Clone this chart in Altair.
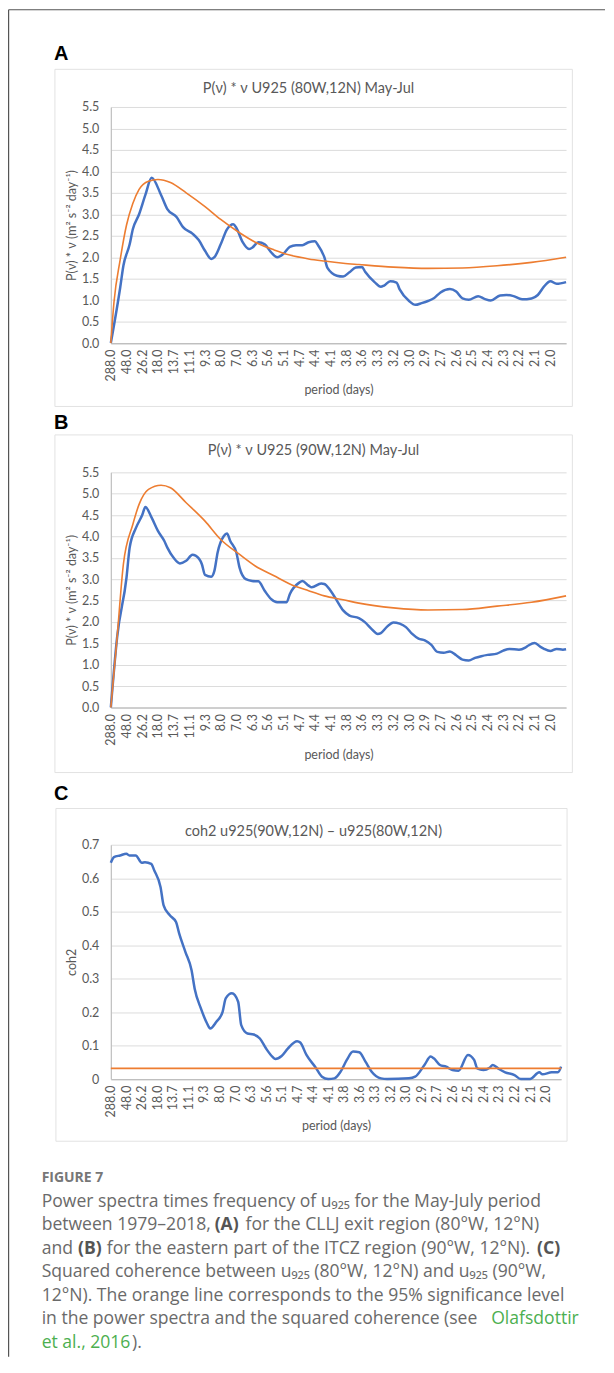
import altair as alt
import pandas as pd

FONT = "Lato"
GRAY = "#595959"
BLUE = "#4472C4"
ORANGE = "#ED7D31"

# x positions are frequency indices (0..145); tick labels are the periods (days)
period_labels = ["288.0", "48.0", "26.2", "18.0", "13.7", "11.1", "9.3", "8.0", "7.0", "6.3",
                 "5.6", "5.1", "4.7", "4.4", "4.1", "3.8", "3.6", "3.3", "3.2", "3.0",
                 "2.9", "2.7", "2.6", "2.5", "2.4", "2.3", "2.2", "2.1", "2.0"]

# Panel A : P(v)*v U925 (80W,12N)
a_blue_i = [0, 3, 4, 6, 7, 9, 11, 13, 16, 18, 21, 23, 26, 28, 30, 32, 33, 35, 37, 39, 40, 42, 44, 45,
            47, 49, 51, 53, 55, 57, 59, 61, 63, 65, 66, 68, 69, 72, 74, 76, 78, 80, 81, 84, 86, 87,
            89, 91, 92, 95, 97, 99, 101, 103, 105, 108, 110, 112, 114, 117, 119, 121, 124, 126, 128,
            131, 134, 136, 138, 140, 142, 145]
a_blue_v = [0.0, 1.3, 1.8, 2.3, 2.65, 3.0, 3.45, 3.85, 3.45, 3.12, 2.93, 2.7, 2.55, 2.4, 2.15, 1.96, 2.0,
            2.3, 2.65, 2.77, 2.68, 2.35, 2.19, 2.22, 2.35, 2.3, 2.12, 2.0, 2.08, 2.24, 2.28, 2.28, 2.35,
            2.37, 2.28, 2.0, 1.75, 1.57, 1.55, 1.65, 1.76, 1.77, 1.66, 1.42, 1.31, 1.34, 1.44, 1.41, 1.25,
            0.98, 0.89, 0.93, 0.98, 1.05, 1.18, 1.26, 1.2, 1.04, 1.01, 1.09, 1.03, 0.99, 1.11, 1.12, 1.1,
            1.02, 1.04, 1.12, 1.32, 1.44, 1.38, 1.42]
a_orange_i = [0, 1, 3, 5, 7, 9, 12, 15, 19, 24, 30, 35, 41, 46, 52, 57, 63, 68, 74, 79, 90, 101, 112,
              123, 134, 145]
a_orange_v = [0.0, 0.95, 1.95, 2.75, 3.25, 3.58, 3.77, 3.81, 3.74, 3.5, 3.18, 2.88, 2.57, 2.35, 2.17,
              2.05, 1.96, 1.91, 1.86, 1.83, 1.77, 1.74, 1.75, 1.8, 1.88, 2.0]

# Panel B : P(v)*v U925 (90W,12N)
b_blue_i = [0, 2, 5, 6, 8, 10, 11, 13, 15, 17, 18, 20, 22, 24, 26, 27, 29, 30, 32, 33, 34, 36, 37, 38,
            40, 41, 43, 45, 47, 49, 51, 53, 56, 57, 60, 61, 63, 64, 67, 68, 70, 72, 74, 76, 79, 81, 83,
            85, 86, 88, 90, 92, 94, 96, 98, 100, 102, 104, 106, 108, 110, 112, 114, 116, 118, 120, 123,
            125, 127, 130, 132, 133, 135, 137, 138, 140, 142, 144, 145]
b_blue_v = [0.0, 1.64, 3.04, 3.74, 4.2, 4.5, 4.69, 4.44, 4.13, 3.9, 3.74, 3.5, 3.37, 3.43, 3.57, 3.55,
            3.35, 3.1, 3.06, 3.2, 3.62, 4.01, 4.07, 3.9, 3.62, 3.27, 3.0, 2.96, 2.95, 2.73, 2.54, 2.46,
            2.46, 2.65, 2.92, 2.96, 2.85, 2.81, 2.9, 2.89, 2.73, 2.5, 2.27, 2.15, 2.09, 1.99, 1.84, 1.72,
            1.74, 1.89, 1.99, 1.96, 1.88, 1.72, 1.61, 1.57, 1.47, 1.3, 1.28, 1.31, 1.22, 1.12, 1.1, 1.16,
            1.2, 1.23, 1.26, 1.33, 1.37, 1.35, 1.4, 1.45, 1.51, 1.41, 1.37, 1.32, 1.37, 1.35, 1.36]
b_orange_i = [0, 2, 4, 7, 9, 12, 16, 19, 24, 30, 35, 41, 46, 52, 57, 63, 68, 74, 79, 90, 101, 112, 123,
              134, 145]
b_orange_v = [0.0, 1.64, 3.35, 4.28, 4.75, 5.1, 5.2, 5.14, 4.79, 4.36, 3.93, 3.58, 3.31, 3.08, 2.89,
              2.73, 2.61, 2.52, 2.44, 2.33, 2.28, 2.29, 2.37, 2.46, 2.61]

# Panel C : squared coherence
c_blue_i = [0, 1, 3, 5, 6, 8, 10, 11, 13, 14, 16, 17, 19, 21, 22, 24, 26, 27, 29, 31, 32, 34, 36, 37,
            39, 41, 42, 44, 46, 48, 50, 52, 53, 55, 57, 60, 61, 63, 66, 68, 70, 72, 74, 76, 78, 80, 82,
            84, 87, 89, 96, 98, 101, 103, 104, 106, 108, 110, 112, 115, 117, 118, 120, 122, 123, 125,
            127, 130, 132, 135, 138, 139, 142, 144, 145]
c_blue_v = [0.646, 0.663, 0.668, 0.673, 0.668, 0.668, 0.646, 0.648, 0.643, 0.623, 0.574, 0.519, 0.489,
            0.469, 0.435, 0.38, 0.325, 0.27, 0.211, 0.166, 0.151, 0.171, 0.201, 0.241, 0.256, 0.231,
            0.161, 0.136, 0.133, 0.121, 0.091, 0.067, 0.06, 0.069, 0.091, 0.113, 0.109, 0.072, 0.034,
            0.007, 0.0, 0.002, 0.022, 0.057, 0.082, 0.08, 0.052, 0.022, 0.002, 0.0, 0.002, 0.007, 0.042,
            0.067, 0.062, 0.042, 0.037, 0.027, 0.025, 0.072, 0.057, 0.032, 0.027, 0.034, 0.042, 0.03,
            0.02, 0.012, 0.0, 0.0, 0.02, 0.014, 0.02, 0.02, 0.037]
c_level_i = [0, 145]
c_level_v = [0.032, 0.032]

a_y_ticks = [0, 0.5, 1, 1.5, 2, 2.5, 3, 3.5, 4, 4.5, 5, 5.5]
c_y_ticks = [0, 0.1, 0.2, 0.3, 0.4, 0.5, 0.6, 0.7]
x_ticks = list(range(0, 141, 5))

label_expr = "[" + ",".join("'%s'" % p for p in period_labels) + "][round(datum.value / 5)]"


def x_axis():
    return alt.Axis(values=x_ticks, labelExpr=label_expr, labelAngle=270, labelFont=FONT,
                    labelFontSize=12.5, labelColor=GRAY, labelPadding=6, labelFlush=False,
                    labelOverlap=False, ticks=False, tickSize=0, grid=False,
                    domainColor="#bfbfbf", domainWidth=1.3, title="period (days)",
                    titleFont=FONT, titleFontSize=12.5, titleFontWeight="normal",
                    titleColor=GRAY, titlePadding=3)


def y_axis(values, title, fmt=None, expr=None):
    kw = dict(values=values, labelFont=FONT, labelFontSize=12.5, labelColor=GRAY, labelPadding=12,
              labelFlush=False, ticks=False, tickSize=0, grid=True, gridColor="#dcdcdc",
              gridWidth=1, domainColor="#bfbfbf", domainWidth=1.2, title=title, titleFont=FONT,
              titleFontSize=12.5, titleFontWeight="normal", titleColor=GRAY, titlePadding=3)
    if fmt:
        kw["format"] = fmt
    if expr:
        kw["labelExpr"] = expr
    return alt.Axis(**kw)


def line(i, v, color, width, xs, ys, xa, ya):
    df = pd.DataFrame({"i": i, "v": v})
    return alt.Chart(df).mark_line(color=color, strokeWidth=width, interpolate="monotone").encode(
        x=alt.X("i:Q", scale=xs, axis=xa), y=alt.Y("v:Q", scale=ys, axis=ya))


def txt(text, x, y, size, color, weight="normal", align="left", font=FONT):
    return alt.Chart(pd.DataFrame({"t": [text]})).mark_text(
        align=align, baseline="alphabetic", font=font, fontSize=size, fontWeight=weight,
        color=color).encode(x=alt.value(x), y=alt.value(y), text="t:N")


def box(x1, x2, y1, y2):
    return alt.Chart(pd.DataFrame({"b": [0]})).mark_rect(
        fillOpacity=0, stroke="#e2e2e2", strokeWidth=1).encode(
        x=alt.value(x1), x2=alt.value(x2), y=alt.value(y1), y2=alt.value(y2))


def rule(x1, x2, y1, y2):
    return alt.Chart(pd.DataFrame({"r": [0]})).mark_rule(color="#555555", strokeWidth=1.2).encode(
        x=alt.value(x1), x2=alt.value(x2), y=alt.value(y1), y2=alt.value(y2))


def spacer(h):
    return alt.Chart(pd.DataFrame({"s": [0]})).mark_rule(opacity=0).encode(
        x=alt.value(0), y=alt.value(0)).properties(width=10, height=h)


xs = alt.Scale(domain=[0, 145], nice=False, zero=False)
ys_ab = alt.Scale(domain=[0, 5.5], nice=False)
ys_c = alt.Scale(domain=[0, 0.7], nice=False)
ytitle = "P(ν) * ν  (m² s⁻² day⁻¹)"
TS = 14.5

panel_a = alt.layer(
    rule(-102.4, 495, -97.4, -97.4),
    rule(-102.4, -102.4, -97.4, 1252),
    box(-56, 462.3, -37.7, 300),
    txt("A", -57, -47, 20, "#000000", "bold", font="Liberation Sans"),
    txt("P(ν) * ν  U925 (80W,12N)  May-Jul", 198, -13.7, TS, GRAY, align="center"),
    line(a_blue_i, a_blue_v, BLUE, 2.5, xs, ys_ab, x_axis(), y_axis(a_y_ticks, ytitle, fmt=".1f")),
    line(a_orange_i, a_orange_v, ORANGE, 1.6, xs, ys_ab, x_axis(), y_axis(a_y_ticks, ytitle, fmt=".1f")),
).properties(width=456, height=236.5)

panel_b = alt.layer(
    box(-56, 462.3, -37.5, 300.7),
    txt("B", -57, -43, 20, "#000000", "bold", font="Liberation Sans"),
    txt("P(ν) * ν  U925 (90W,12N)  May-Jul", 203, -17, TS, GRAY, align="center"),
    line(b_blue_i, b_blue_v, BLUE, 2.5, xs, ys_ab, x_axis(), y_axis(a_y_ticks, ytitle, fmt=".1f")),
    line(b_orange_i, b_orange_v, ORANGE, 1.6, xs, ys_ab, x_axis(), y_axis(a_y_ticks, ytitle, fmt=".1f")),
).properties(width=456, height=235.5)

c_expr = "datum.value == 0 ? '0' : format(datum.value, '.1f')"
CAP = "#6a6a6a"
CAPB = "#555555"
GREEN = "#4caf50"
CAPF = "Open Sans"
CS = 17.6
L0 = 362.5
LH = 23.6
panel_c = alt.layer(
    box(-55, 457, -36.3, 297),
    txt("C", -57, -44.5, 20, "#000000", "bold", font="Liberation Sans"),
    txt("coh2 u925(90W,12N) – u925(80W,12N)", 203, -9, TS, GRAY, align="center"),
    line(c_blue_i, c_blue_v, BLUE, 2.5, xs, ys_c, x_axis(), y_axis(c_y_ticks, "coh2", expr=c_expr)),
    line(c_level_i, c_level_v, ORANGE, 1.8, xs, ys_c, x_axis(), y_axis(c_y_ticks, "coh2", expr=c_expr)),
    txt("FIGURE 7", -69.3, 338.3, 14, "#777777", "bold", font=CAPF),
    txt("Power spectra times frequency of u₉₂₅ for the May-July period", -69.3, L0, CS, CAP, font=CAPF),
    txt("between 1979–2018,", -69.3, L0 + LH, CS, CAP, font=CAPF),
    txt("(A)", 104, L0 + LH, CS, CAPB, "bold", font=CAPF),
    txt("for the CLLJ exit region (80°W, 12°N)", 135, L0 + LH, CS, CAP, font=CAPF),
    txt("and", -69.3, L0 + 2 * LH, CS, CAP, font=CAPF),
    txt("(B)", -32.9, L0 + 2 * LH, CS, CAPB, "bold", font=CAPF),
    txt("for the eastern part of the ITCZ region (90°W, 12°N).", -4, L0 + 2 * LH, CS, CAP, font=CAPF),
    txt("(C)", 427, L0 + 2 * LH, CS, CAPB, "bold", font=CAPF),
    txt("Squared coherence between u₉₂₅ (80°W, 12°N) and u₉₂₅ (90°W,", -69.3, L0 + 3 * LH, CS, CAP, font=CAPF),
    txt("12°N). The orange line corresponds to the 95% significance level", -69.3, L0 + 4 * LH, CS, CAP, font=CAPF),
    txt("in the power spectra and the squared coherence (see", -69.3, L0 + 5 * LH, CS, CAP, font=CAPF),
    txt("Olafsdottir", 381, L0 + 5 * LH, CS, GREEN, font=CAPF),
    txt("et al., 2016", -69.3, L0 + 6 * LH, CS, GREEN, font=CAPF),
    txt(").", 21.3, L0 + 6 * LH, CS, CAP, font=CAPF),
).properties(width=451, height=234.7)

chart = alt.vconcat(panel_a, spacer(128.5), panel_b, spacer(136.5), panel_c,
                    spacing=0, bounds="flush").properties(
    padding=0, background="white"
).configure_view(stroke=None)

chart.save("out.html", embed_options={"renderer": "svg", "actions": False})
